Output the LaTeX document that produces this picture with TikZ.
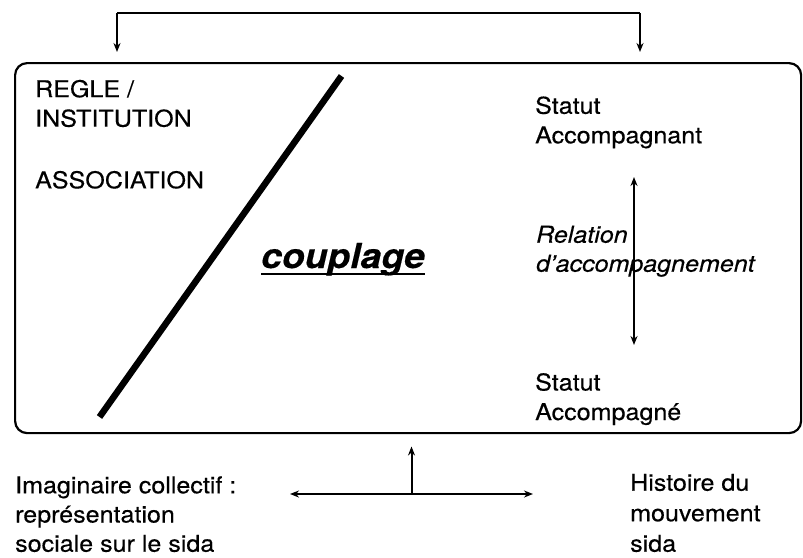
\documentclass[tikz,border=0pt]{standalone}
\usepackage{fontspec}
\setmainfont[FakeStretch=1.08,FakeBold=0.4]{TeX Gyre Heros}
\usetikzlibrary{arrows.meta}
\newcommand\myuline[1]{\setbox0\hbox{#1}\rlap{\rule[-7pt]{\wd0}{1.8pt}}\box0}
\tikzset{
  lbl/.style={inner sep=0pt, anchor=base west, align=left,
    font=\fontsize{23.2}{29.5}\selectfont},
  arr/.style={line width=2pt, -{Stealth[length=9pt,width=7pt]}},
  darr/.style={line width=2pt, {Stealth[length=9pt,width=7pt]}-{Stealth[length=9pt,width=7pt]}},
  frame/.style={draw, line width=2.2pt, rounded corners=12pt, inner sep=0pt},
}
\begin{document}
\begin{tikzpicture}[x=1pt,y=-1pt]
\useasboundingbox (0,0) rectangle (803,557);
% main box
\node[frame, minimum width=786pt, minimum height=370pt, anchor=north west] (box) at (14,62) {};
% top bracket
\coordinate (ta) at (117,13);
\coordinate (tb) at (640,13);
\coordinate (tl) at (117,52);
\coordinate (tr) at (640,52);
\draw[arr] (ta) -- (tl);
\draw[arr] (tb) -- (tr);
\draw[line width=2pt] (ta) -- (tb);
% diagonal bar
\coordinate (d1) at (99.5,417);
\coordinate (d2) at (341.5,76);
\draw[line width=6.5pt] (d1) -- (d2);
% texts left
\node[lbl] (regle) at (35,126.7) {REGLE /\\INSTITUTION};
\node[lbl] (assoc) at (35,188.3) {ASSOCIATION};
% couplage
\node[inner sep=0pt, anchor=base west, font=\fontsize{34.5}{40}\selectfont\bfseries\itshape] (coup) at (261,268) {\myuline{couplage}};
% right texts
\node[lbl] (st1) at (535,143.3) {Statut\\Accompagnant};
\node[lbl, font=\fontsize{23.2}{29}\selectfont\itshape] (rel) at (536,271.7) {Relation\\d’accompagnement};
\node[lbl] (st2) at (535,420) {Statut\\Accompagné};
\coordinate (ra) at (634,177);
\coordinate (rb) at (634,345);
\draw[darr] (ra) -- (rb);
% bottom
\node[lbl, font=\fontsize{23.2}{29.2}\selectfont] (imag) at (15,551.7) {Imaginaire collectif :\\représentation\\sociale sur le sida};
\node[lbl, font=\fontsize{23.2}{30.5}\selectfont] (hist) at (630,551.7) {Histoire du\\mouvement\\sida};
\coordinate (hl) at (290,494);
\coordinate (hr) at (533,494);
\coordinate (hm) at (411.5,494);
\coordinate (hu) at (411.5,446.5);
\draw[darr] (hl) -- (hr);
\draw[arr] (hm) -- (hu);
\end{tikzpicture}
\end{document}
